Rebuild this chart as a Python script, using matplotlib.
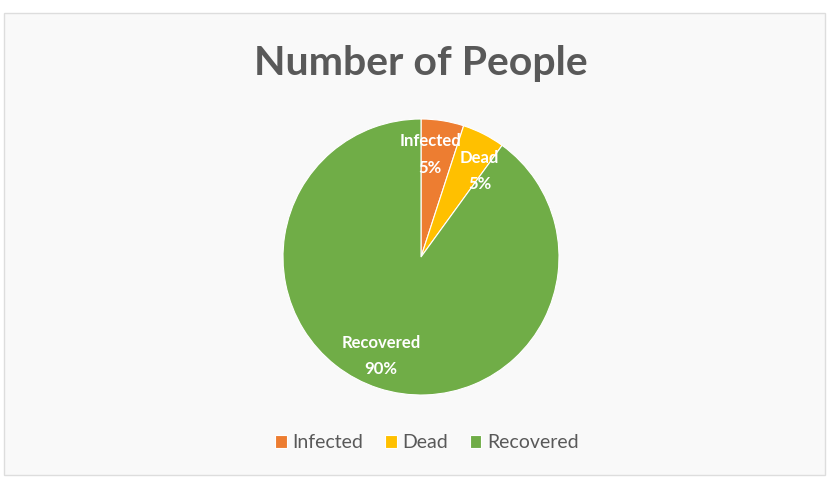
import numpy as np
import matplotlib.pyplot as plt
from matplotlib.patches import Rectangle

# Share of people by outcome (%)
categories = ["Infected", "Dead", "Recovered"]
shares = [5, 5, 90]
colors = ["#ED7D31", "#FFC000", "#70AD47"]

plt.rcParams['font.family'] = ['Lato', 'DejaVu Sans']

W, H = 829, 478
fig = plt.figure(figsize=(W / 100, H / 100), dpi=100)
fig.patch.set_facecolor("white")

# chart frame
fig.patches.append(Rectangle((4 / W, 3 / H), 821 / W, 462 / H, transform=fig.transFigure,
                             facecolor="#F9F9F9", edgecolor="#DDDDDD", linewidth=1.0, zorder=-5))

fig.text(421 / W, 1 - 63 / H, "Number of People", ha="center", va="center",
         fontsize=29.5, fontweight="bold", color="#595959")

cx, cy, r = 421, 257, 138
ax = fig.add_axes([(cx - r) / W, (H - cy - r) / H, 2 * r / W, 2 * r / H])
ax.set_zorder(2)
wedges, _ = ax.pie(shares, colors=colors, startangle=90, counterclock=False,
                   wedgeprops=dict(edgecolor="white", linewidth=0.8))
ax.set_xlim(-1, 1)
ax.set_ylim(-1, 1)
ax.set_aspect("equal")
ax.axis("off")

# data labels inside each slice: name on top, percentage below
label_dist = [0.75, 0.76, 0.77]
angle_nudge = [4, -7, -4]
for w, name, s, d, da in zip(wedges, categories, shares, label_dist, angle_nudge):
    mid = np.deg2rad((w.theta1 + w.theta2) / 2 + da)
    xy = (d * np.cos(mid), d * np.sin(mid))
    for txt, dy in ((name, 9), (f"{s}%", -10)):
        ax.annotate(txt, xy, xytext=(0, dy), textcoords="offset points", ha="center",
                    va="center", fontsize=12, fontweight="bold", color="white")

leg = fig.legend(wedges, categories, loc="center", bbox_to_anchor=(427 / W, 1 - 443 / H),
                 ncol=3, frameon=False, fontsize=14, handlelength=0.6, handleheight=0.6,
                 handletextpad=0.3, columnspacing=1.1)
for t in leg.get_texts():
    t.set_color("#595959")

fig.savefig("out.png", dpi=100, facecolor=fig.get_facecolor())
